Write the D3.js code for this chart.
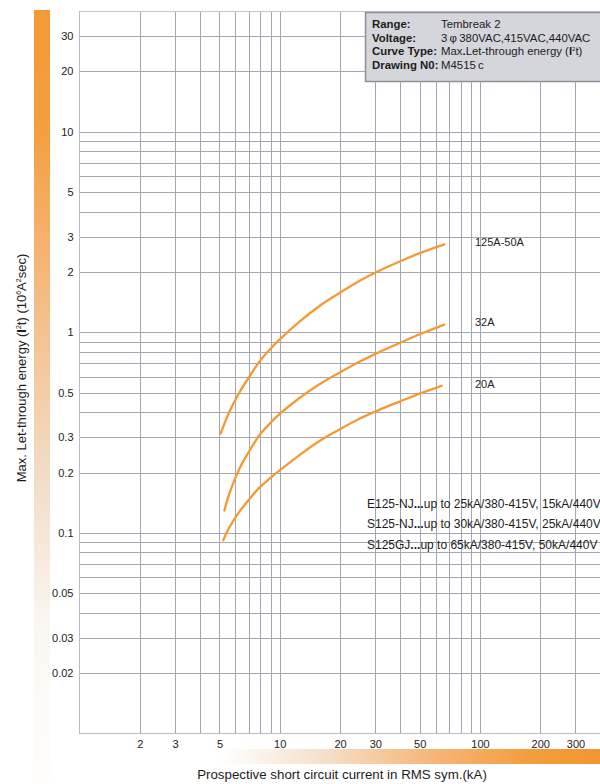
<!DOCTYPE html>
<html>
<head>
<meta charset="utf-8">
<script src="https://cdn.jsdelivr.net/npm/d3@7"></script>
<style>
  html, body { margin: 0; padding: 0; background: #fff; }
  svg { display: block; font-family: "Liberation Sans", Arial, Helvetica, sans-serif; }
</style>
</head>
<body>
<svg id="chart" width="600" height="784"></svg>
<script>
// ---- data ----
const xTickValues = [2, 3, 5, 10, 20, 30, 50, 100, 200, 300];
const yTickValues = [30, 20, 10, 5, 3, 2, 1, 0.5, 0.3, 0.2, 0.1, 0.05, 0.03, 0.02];

const current125 = [5.05, 5.6, 6.3, 7.1, 7.9, 8.9, 10, 12.6, 15.8, 20, 25, 31.6, 40, 50, 63, 67];
const energy125  = [0.31, 0.401, 0.503, 0.607, 0.712, 0.818, 0.922, 1.135, 1.353, 1.577, 1.805, 2.035, 2.262, 2.483, 2.697, 2.753];

const current32 = [5.28, 5.6, 6.3, 7.1, 7.9, 8.9, 10, 12.6, 15.8, 20, 25, 31.6, 40, 50, 63, 67];
const energy32  = [0.128, 0.157, 0.2095, 0.259, 0.306, 0.35, 0.392, 0.472, 0.551, 0.631, 0.713, 0.799, 0.887, 0.978, 1.071, 1.096];

const current20 = [5.2, 5.6, 6.3, 7.1, 7.9, 8.9, 10, 12.6, 15.8, 20, 25, 31.6, 40, 50, 63, 65];
const energy20  = [0.091, 0.1064, 0.1281, 0.1485, 0.1678, 0.1865, 0.205, 0.245, 0.287, 0.329, 0.371, 0.412, 0.453, 0.495, 0.537, 0.543];

const seriesLabels = ["125A-50A", "32A", "20A"];

const infoLabels = ["Range:", "Voltage:", "Curve Type:", "Drawing N0:"];

const noteLines = [
  ["E125-NJ", "...", "up to 25kA/380-415V, 15kA/440V"],
  ["S125-NJ", "...", "up to 30kA/380-415V, 25kA/440V"],
  ["S125GJ", "...", "up to 65kA/380-415V, 50kA/440V"]
];

// ---- scales ----
const svg = d3.select("#chart");
const x = d3.scaleLog().domain([1, 400]).range([79.5, 600.5]);
const y = d3.scaleLog().domain([0.01, 40]).range([733.5, 11]);

const defs = svg.append("defs");
const gv = defs.append("linearGradient").attr("id", "gv").attr("x1", 0).attr("y1", 0).attr("x2", 0).attr("y2", 1);
[[0, "#f39a35"], [0.14, "#f39d3c"], [0.33, "#f6b577"], [0.6, "#f2dcc5"], [0.8, "#fbf7f2"], [1, "#fffefd"]]
  .forEach(s => gv.append("stop").attr("offset", s[0]).attr("stop-color", s[1]));
const gh = defs.append("linearGradient").attr("id", "gh").attr("x1", 0).attr("y1", 0).attr("x2", 1).attr("y2", 0);
[[0, "#ffffff"], [0.25, "#f5e3d0"], [0.55, "#f6b77b"], [0.82, "#f39d3c"], [1, "#f29632"]]
  .forEach(s => gh.append("stop").attr("offset", s[0]).attr("stop-color", s[1]));

// decorative gradient bars
svg.append("rect").attr("x", 34).attr("y", 10).attr("width", 16).attr("height", 774).attr("fill", "url(#gv)");
svg.append("rect").attr("x", 220).attr("y", 749).attr("width", 380).attr("height", 15).attr("fill", "url(#gh)");

// ---- grid ----
const gridColor = "#a2a7b1";
const xGrid = [];
[1, 10, 100].forEach(d => { for (let m = 1; m <= 9; m++) { const v = d * m; if (v > 1 && v < 400) xGrid.push(v); } });
const yGrid = [];
[0.01, 0.1, 1, 10].forEach(d => { for (let m = 1; m <= 9; m++) { const v = +(d * m).toPrecision(3); if (v > 0.01 && v < 40) yGrid.push(v); } });

const grid = svg.append("g").attr("shape-rendering", "crispEdges");
grid.selectAll(".vx").data(xGrid).enter().append("line")
  .attr("x1", d => Math.round(x(d)) + 0.5).attr("x2", d => Math.round(x(d)) + 0.5)
  .attr("y1", y.range()[1]).attr("y2", y.range()[0])
  .attr("stroke", gridColor).attr("stroke-width", 1);
grid.selectAll(".hy").data(yGrid).enter().append("line")
  .attr("y1", d => Math.round(y(d)) + 0.5).attr("y2", d => Math.round(y(d)) + 0.5)
  .attr("x1", x.range()[0]).attr("x2", x.range()[1])
  .attr("stroke", gridColor).attr("stroke-width", 1);

// frame
grid.append("line").attr("x1", 79.5).attr("x2", 79.5).attr("y1", 11).attr("y2", 733.5).attr("stroke", "#b9bcc3");
grid.append("line").attr("x1", 79.5).attr("x2", 600).attr("y1", 11.5).attr("y2", 11.5).attr("stroke", "#c4c7cd");
grid.append("line").attr("x1", 79.5).attr("x2", 600).attr("y1", 733.5).attr("y2", 733.5).attr("stroke", "#b9bcc3");

// ---- axes (labels only) ----
const xAxis = d3.axisBottom(x).tickValues(xTickValues).tickFormat(d3.format("d")).tickSize(0).tickPadding(7);
const gx = svg.append("g").attr("transform", "translate(0,733.5)").call(xAxis);
gx.select(".domain").remove();
gx.selectAll("text").attr("font-size", 11).attr("fill", "#222").attr("font-family", "Liberation Sans, Arial, sans-serif");

const yAxis = d3.axisLeft(y).tickValues(yTickValues).tickFormat(d => String(d)).tickSize(0).tickPadding(6);
const gy = svg.append("g").attr("transform", "translate(79.5,0)").call(yAxis);
gy.select(".domain").remove();
gy.selectAll("text").attr("font-size", 11).attr("fill", "#222").attr("font-family", "Liberation Sans, Arial, sans-serif");

// ---- curves ----
const line = d3.line().x(d => x(d[0])).y(d => y(d[1])).curve(d3.curveCatmullRom.alpha(0.5));
const series = [
  d3.zip(current125, energy125),
  d3.zip(current32, energy32),
  d3.zip(current20, energy20)
];
svg.append("g").selectAll("path").data(series).enter().append("path")
  .attr("d", line).attr("fill", "none").attr("stroke", "#f39a33").attr("stroke-width", 2.3).attr("stroke-linecap", "butt");

// series labels
svg.append("g").selectAll("text").data(series).enter().append("text")
  .attr("x", 475)
  .attr("y", d => y(d[d.length - 1][1]) + 2)
  .attr("font-size", 11).attr("fill", "#222")
  .text((d, i) => seriesLabels[i]);

// ---- info box ----
const box = svg.append("g");
box.append("rect").attr("x", 365.5).attr("y", 12.5).attr("width", 240).attr("height", 69)
  .attr("fill", "#d4d6db").attr("stroke", "#8e9199").attr("stroke-width", 1.5);
const infoY = [28, 41.5, 55, 68.5];
const fs = 11.4;
box.selectAll(".lab").data(infoLabels).enter().append("text")
  .attr("x", 372).attr("y", (d, i) => infoY[i])
  .attr("font-size", fs).attr("font-weight", "bold").attr("fill", "#1c1c1c").text(d => d);

const vx = 441;
box.append("text").attr("x", vx).attr("y", infoY[0]).attr("font-size", fs).attr("fill", "#1c1c1c").text("Tembreak 2");
box.append("text").attr("x", vx).attr("y", infoY[1]).attr("font-size", fs).attr("fill", "#1c1c1c").text("3\u2009\u03C6\u2009380VAC,415VAC,440VAC");
const ct = box.append("text").attr("x", vx).attr("y", infoY[2]).attr("font-size", fs).attr("fill", "#1c1c1c");
ct.append("tspan").text("Max");
ct.append("tspan").attr("font-weight", "bold").text(".");
ct.append("tspan").text("Let-through energy (");
ct.append("tspan").attr("font-weight", "bold").text("I");
ct.append("tspan").attr("font-size", 6).attr("dy", -4).text("2");
ct.append("tspan").attr("dy", 4).text("t)");
box.append("text").attr("x", vx).attr("y", infoY[3]).attr("font-size", fs).attr("fill", "#1c1c1c").text("M4515\u2009c");

// ---- notes ----
const noteY = [508, 528, 549];
noteLines.forEach((parts, i) => {
  const t = svg.append("text").attr("x", 367).attr("y", noteY[i]).attr("font-size", 12).attr("fill", "#1c1c1c");
  t.append("tspan").text(parts[0]);
  t.append("tspan").attr("font-weight", "bold").text(parts[1]);
  t.append("tspan").text(parts[2]);
});

// ---- axis titles ----
svg.append("text").attr("x", 342).attr("y", 779).attr("text-anchor", "middle")
  .attr("font-size", 13.3).attr("fill", "#1c1c1c")
  .text("Prospective short circuit current in RMS sym.(kA)");

const yt = svg.append("text").attr("transform", "translate(26,368) rotate(-90)")
  .attr("text-anchor", "middle").attr("font-size", 13).attr("fill", "#1c1c1c");
yt.append("tspan").text("Max. Let-through energy (");
yt.append("tspan").attr("font-weight", "bold").text("I");
yt.append("tspan").attr("font-size", 7).attr("dy", -5).text("2");
yt.append("tspan").attr("dy", 5).text("t)  (10");
yt.append("tspan").attr("font-size", 7).attr("dy", -5).text("6");
yt.append("tspan").attr("dy", 5).text("A");
yt.append("tspan").attr("font-size", 7).attr("dy", -5).text("2");
yt.append("tspan").attr("dy", 5).text("sec)");
</script>
</body>
</html>
